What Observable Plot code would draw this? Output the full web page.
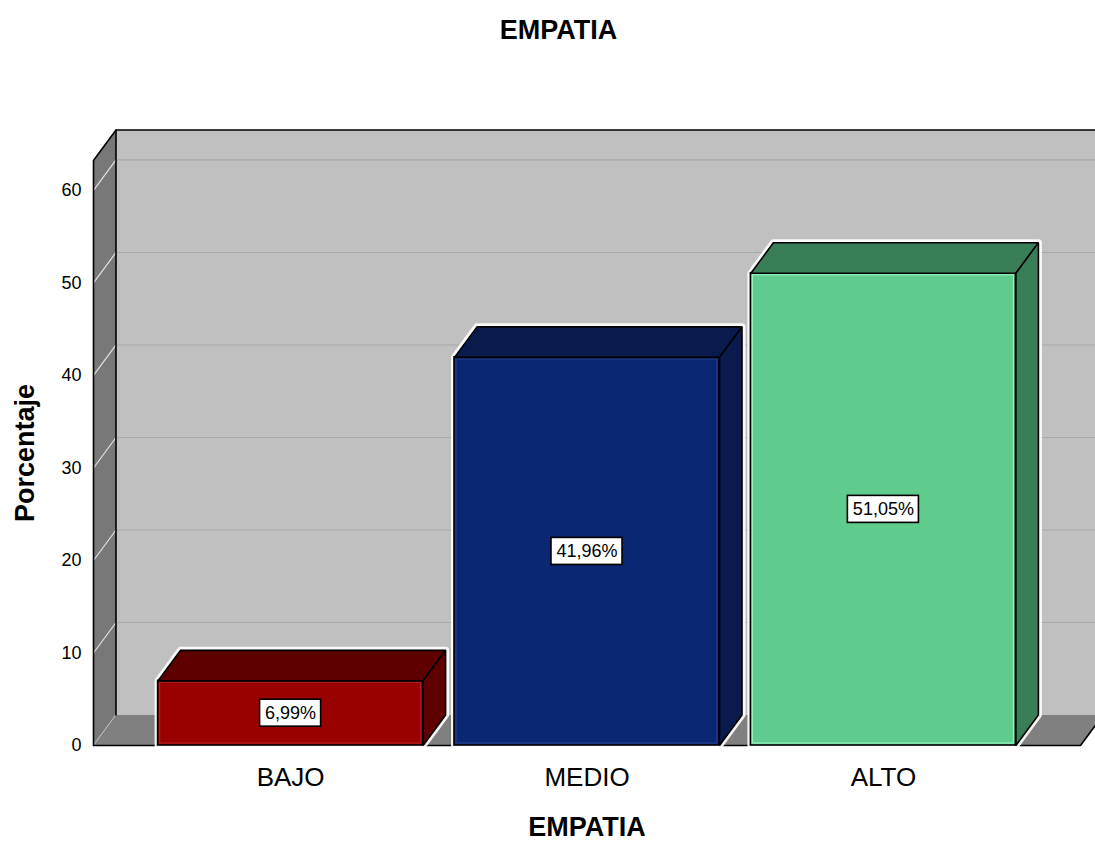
<!DOCTYPE html>
<html>
<head>
<meta charset="utf-8">
<script src="https://cdn.jsdelivr.net/npm/d3@7"></script>
<script src="https://cdn.jsdelivr.net/npm/@observablehq/plot@0.6"></script>
<style>
  body { margin: 0; background: #fff; font-family: "Liberation Sans", Arial, sans-serif; }
  #title { height: 60px; line-height: 60px; text-align: center; font-weight: bold; font-size: 27px; padding-left: 22px; color: #000; }
</style>
</head>
<body>
<div id="title">EMPATIA</div>
<div id="chart"></div>
<script>
// Percentage of respondents per empathy level
const categories = ["BAJO", "MEDIO", "ALTO"];
const percentages = [6.99, 41.96, 51.05];
const yTicks = [0, 10, 20, 30, 40, 50, 60];

// Bar palette: front face, shaded top/side faces, inner highlight edge
const frontColors = ["#990000", "#0b2672", "#5fcb8c"];
const shadeColors = ["#5e0000", "#0a1a4c", "#3a7e57"];
const edgeColors = ["#b31f1f", "#23418f", "#95f4ba"];

// Frame geometry in scale units
const xMin = -0.665, xMax = 2.665, yMax = 63.24;
const plotW = 1095 - 93 - 15, plotH = 585;
const pxX = (xMax - xMin) / plotW, pxY = yMax / plotH;
const half = 132.5 * pxX;          // half of a bar's width
const DX = 22.5 * pxX, DY = 30.5 * pxY; // 3D depth offset

const label = v => v.toFixed(2).replace(".", ",") + "%";
const textEm = s => [...s].reduce((a, c) => a + (c === "," ? 0.278 : c === "%" ? 0.889 : 0.556), 0);

// Polygons built from the values
const pts = (id, fill, list) => list.map(([x, y]) => ({id, fill, x, y}));

const backWall = pts("back", "#c0c0c0", [[xMin + DX, DY], [xMin + DX, yMax + DY], [xMax + DX + 0.1, yMax + DY], [xMax + DX + 0.1, DY]]);
const sideWall = pts("side", "#787878", [[xMin, 0], [xMin, yMax], [xMin + DX, yMax + DY], [xMin + DX, DY]]);
const floor = pts("floor", "#808080", [[xMin, 0], [xMax, 0], [xMax + DX, DY], [xMin + DX, DY]]);

const backGrid = yTicks.filter(t => t > 0).flatMap(t => pts("g" + t, null, [[xMin + DX, t + DY], [xMax + DX + 0.1, t + DY]]));
const sideGrid = yTicks.flatMap(t => pts("s" + t, null, [[xMin, t], [xMin + DX, t + DY]]));

const outlines = [
  ...pts("o1", null, [[xMin + DX, DY], [xMin + DX, yMax + DY], [xMax + DX + 0.1, yMax + DY]]),
  ...pts("o2", null, [[xMin, 0], [xMin, yMax], [xMin + DX, yMax + DY]]),
  ...pts("o3", null, [[xMin, 0], [xMax, 0], [xMax + DX, DY]])
];

const bars = percentages.map((v, i) => ({i, v, x0: i - half, x1: i + half, cat: categories[i]}));

const glow = bars.flatMap(b => pts("glow" + b.i, null, [
  [b.x0, 0], [b.x0, b.v], [b.x0 + DX, b.v + DY], [b.x1 + DX, b.v + DY], [b.x1 + DX, DY], [b.x1, 0]
]));
const shadedFaces = bars.flatMap(b => [
  ...pts("top" + b.i, shadeColors[b.i], [[b.x0, b.v], [b.x1, b.v], [b.x1 + DX, b.v + DY], [b.x0 + DX, b.v + DY]]),
  ...pts("side" + b.i, shadeColors[b.i], [[b.x1, 0], [b.x1, b.v], [b.x1 + DX, b.v + DY], [b.x1 + DX, DY]])
]);

const boxes = bars.map(b => {
  const w = (textEm(label(b.v)) * 18 + 10) * pxX;
  const h = 27 * pxY;
  return {i: b.i, v: b.v, xa: b.i - w / 2, xb: b.i + w / 2, ya: b.v / 2 - h / 2, yb: b.v / 2 + h / 2};
});

const chart = Plot.plot({
  width: 1095,
  height: 788,
  marginLeft: 93,
  marginRight: 15,
  marginTop: 100,
  marginBottom: 103,
  x: {type: "linear", domain: [xMin, xMax], axis: null},
  y: {domain: [0, yMax], axis: null},
  color: {type: "identity"},
  style: {fontFamily: "'Liberation Sans', Arial, sans-serif", background: "#fff", color: "#000"},
  marks: [
    // walls and floor
    Plot.line(backWall, {x: "x", y: "y", z: "id", fill: "#c0c0c0", stroke: "none", curve: "linear-closed"}),
    Plot.line(backGrid, {x: "x", y: "y", z: "id", stroke: "#a8a8a8", strokeWidth: 1.2}),
    Plot.line(sideWall, {x: "x", y: "y", z: "id", fill: "#787878", stroke: "none", curve: "linear-closed"}),
    Plot.line(sideGrid, {x: "x", y: "y", z: "id", stroke: "#e2e2e2", strokeWidth: 1.2}),
    Plot.line(floor, {x: "x", y: "y", z: "id", fill: "#808080", stroke: "none", curve: "linear-closed"}),
    Plot.line(outlines, {x: "x", y: "y", z: "id", stroke: "#000", strokeWidth: 1.6, strokeLinejoin: "miter"}),

    // white halo behind each bar
    Plot.line(glow, {x: "x", y: "y", z: "id", stroke: "#fff", strokeWidth: 7, strokeOpacity: 0.9, fill: "#fff", curve: "linear-closed"}),

    // bar faces
    Plot.rect(bars, {x1: "x0", x2: "x1", y1: 0, y2: "v", fill: d => frontColors[d.i], stroke: "#000", strokeWidth: 1.6}),
    Plot.rect(bars, {x1: "x0", x2: "x1", y1: 0, y2: "v", inset: 2, fill: "none", stroke: d => edgeColors[d.i], strokeWidth: 1.2}),
    Plot.line(shadedFaces, {x: "x", y: "y", z: "id", fill: "fill", stroke: "#000", strokeWidth: 1.6, strokeLinejoin: "miter", curve: "linear-closed"}),

    // value labels
    Plot.rect(boxes, {x1: "xa", x2: "xb", y1: "ya", y2: "yb", fill: "#fff", stroke: "#000", strokeWidth: 1.6}),
    Plot.text(bars, {x: "i", y: d => d.v / 2, text: d => label(d.v), fontSize: 18, fill: "#000"}),

    // axes
    Plot.axisY(yTicks, {tickSize: 0, tickPadding: 12, fontSize: 18, label: null, anchor: "left"}),
    Plot.axisX(d3.range(categories.length), {tickSize: 0, tickPadding: 22, fontSize: 26, tickFormat: i => categories[i], label: null, anchor: "bottom"}),

    // axis titles
    Plot.text(["EMPATIA"], {text: d => d, frameAnchor: "bottom", dy: 90, fontSize: 27, fontWeight: "bold"}),
    Plot.text(["Porcentaje"], {text: d => d, frameAnchor: "left", textAnchor: "middle", dx: -68, rotate: -90, fontSize: 27, fontWeight: "bold"})
  ]
});

document.getElementById("chart").appendChild(chart);
</script>
</body>
</html>
